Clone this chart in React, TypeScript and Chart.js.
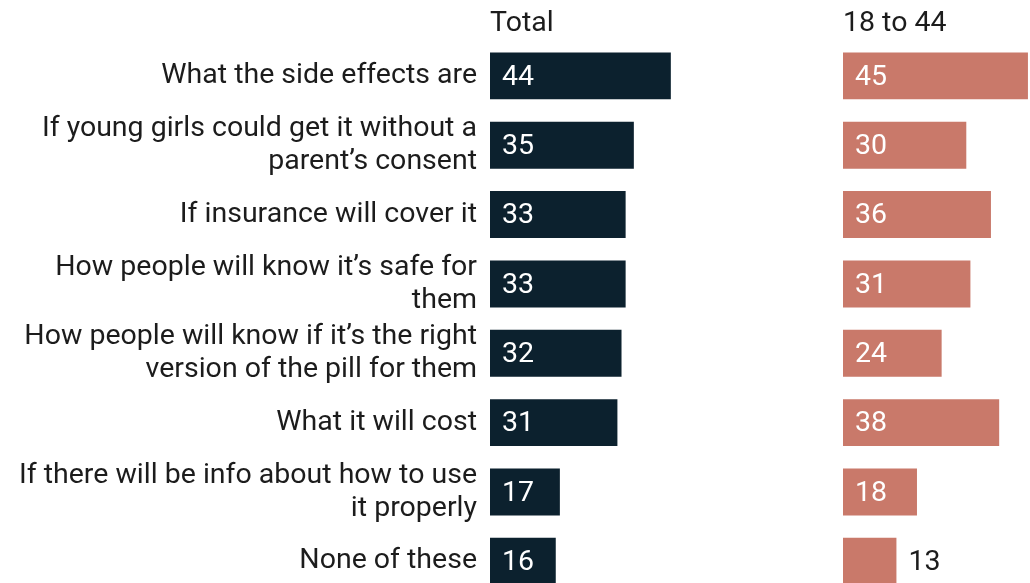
import React, { useEffect, useRef } from "react";
import { Chart, registerables } from "chart.js";

Chart.register(...registerables);

const categories: string[][] = [
  ["What the side effects are"],
  ["If young girls could get it without a", "parent’s consent"],
  ["If insurance will cover it"],
  ["How people will know it’s safe for", "them"],
  ["How people will know if it’s the right", "version of the pill for them"],
  ["What it will cost"],
  ["If there will be info about how to use", "it properly"],
  ["None of these"],
];
const totalValues = [44, 35, 33, 33, 32, 31, 17, 16];
const ageValues = [45, 30, 36, 31, 24, 38, 18, 13];
const panelTitles = ["Total", "18 to 44"];

const NAVY = "#0c212e";
const SALMON = "#c9796a";
const TEXT = "#1c1c1c";
const FONT = "Roboto";
const FONT_SIZE = 28.5;
const X_MAX = 45.5;
const CANVAS_H = 596;

const valueLabels = {
  id: "valueLabels",
  afterDatasetsDraw(chart: any) {
    const ctx = chart.ctx;
    ctx.save();
    ctx.font = `${FONT_SIZE}px ${FONT}`;
    ctx.textBaseline = "middle";
    ctx.textAlign = "left";
    chart.data.datasets.forEach((ds: any, di: number) => {
      const meta = chart.getDatasetMeta(di);
      meta.data.forEach((bar: any, i: number) => {
        const txt = String(ds.data[i]);
        const w = ctx.measureText(txt).width;
        const barW = bar.x - bar.base;
        if (w + 32 <= barW) {
          ctx.fillStyle = "#ffffff";
          ctx.fillText(txt, bar.base + 12, bar.y + 1.5);
        } else {
          ctx.fillStyle = TEXT;
          ctx.fillText(txt, bar.x + 12, bar.y + 1.5);
        }
      });
    });
    ctx.restore();
  },
};

function makeConfig(values: number[], color: string, title: string, showLabels: boolean): any {
  return {
    type: "bar",
    data: {
      labels: categories,
      datasets: [
        {
          data: values,
          backgroundColor: color,
          borderWidth: 0,
          barPercentage: 0.677,
          categoryPercentage: 1,
        },
      ],
    },
    options: {
      indexAxis: "y",
      animation: false,
      responsive: false,
      maintainAspectRatio: false,
      layout: { padding: 0 },
      plugins: { legend: { display: false }, tooltip: { enabled: false }, title: { display: false } },
      scales: {
        x: {
          position: "top",
          min: 0,
          max: X_MAX,
          grid: { display: false, drawTicks: false },
          border: { display: false },
          ticks: { display: false },
          title: {
            display: true,
            text: title,
            align: "start",
            color: TEXT,
            font: { family: FONT, size: FONT_SIZE, lineHeight: 1.2 },
            padding: { top: 7, bottom: 0 },
          },
        },
        y: {
          display: showLabels,
          grid: { display: false, drawTicks: false },
          border: { display: false },
          ticks: {
            color: TEXT,
            padding: 13,
            font: { family: FONT, size: FONT_SIZE, lineHeight: 1.16 },
            autoSkip: false,
          },
          afterFit: (scale: any) => {
            if (showLabels) scale.width = 490;
            scale.paddingTop = 0;
            scale.paddingBottom = 0;
          },
        },
      },
    },
    plugins: [valueLabels],
  };
}

export default function App() {
  const leftRef = useRef<HTMLCanvasElement>(null);
  const rightRef = useRef<HTMLCanvasElement>(null);

  useEffect(() => {
    const c1 = new Chart(leftRef.current as HTMLCanvasElement, makeConfig(totalValues, NAVY, panelTitles[0], true));
    const c2 = new Chart(rightRef.current as HTMLCanvasElement, makeConfig(ageValues, SALMON, panelTitles[1], false));
    return () => {
      c1.destroy();
      c2.destroy();
    };
  }, []);

  return (
    <div
      style={{
        position: "fixed",
        left: 0,
        top: 0,
        width: 1030,
        height: 583,
        overflow: "hidden",
        background: "#ffffff",
      }}
    >
      <canvas
        ref={leftRef}
        width={677}
        height={CANVAS_H}
        style={{ position: "absolute", left: 0, top: 0, width: 677, height: CANVAS_H }}
      />
      <canvas
        ref={rightRef}
        width={187}
        height={CANVAS_H}
        style={{ position: "absolute", left: 843, top: 0, width: 187, height: CANVAS_H }}
      />
    </div>
  );
}
